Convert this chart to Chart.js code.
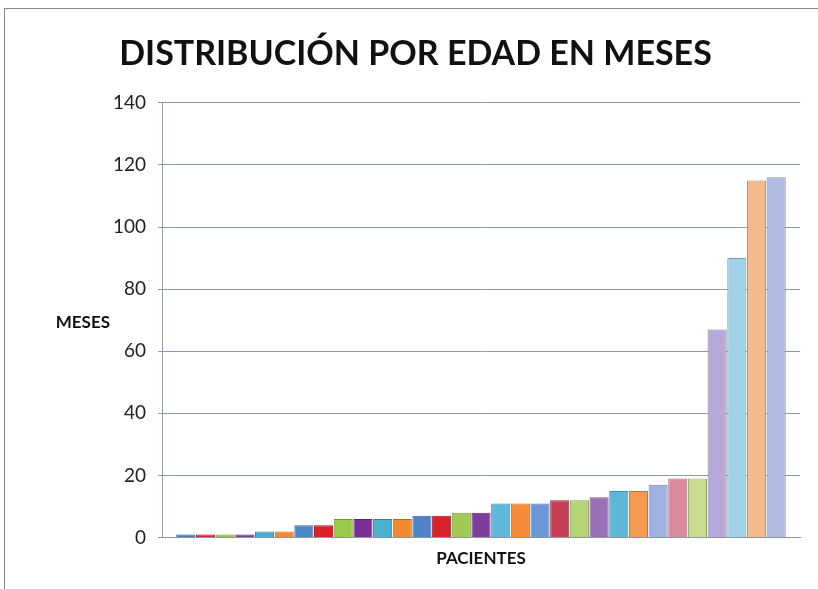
<!DOCTYPE html>
<html>
<head>
<meta charset="utf-8">
<script src="https://cdn.jsdelivr.net/npm/chart.js@4/dist/chart.umd.min.js"></script>
<style>
  html, body { margin: 0; padding: 0; background: #fff; }
  #wrap { position: relative; width: 818px; height: 589px; }
  #frame { position: absolute; left: 4px; top: 8px; right: 0; bottom: 0; border-top: 1px solid #8a8a8a; border-left: 1px solid #8a8a8a; pointer-events: none; }
  canvas { position: absolute; left: 0; top: 0; }
</style>
</head>
<body>
<div id="wrap">
  <canvas id="c" width="818" height="589"></canvas>
  <div id="frame"></div>
</div>
<script>
const TITLE = "DISTRIBUCIÓN POR EDAD EN MESES";
const Y_TITLE = "MESES";
const X_TITLE = "PACIENTES";
const patients = [1,2,3,4,5,6,7,8,9,10,11,12,13,14,15,16,17,18,19,20,21,22,23,24,25,26,27,28,29,30,31];
const ageMonths = [1,1,1,1,2,2,4,4,6,6,6,6,7,7,8,8,11,11,11,12,12,13,15,15,17,19,19,67,90,115,116];
const barColors = ["#4a7ebb","#d0282e","#9dc54f","#7b3b98","#45aed3","#f4882a",
                   "#4f86c8","#dd2027","#9dc948","#7a2f95","#4ab0d0","#f08a2c",
                   "#4d84c8","#d9232a","#a3c955","#7e3d9e","#5db8dc","#f58b35",
                   "#6a98d6","#c84058","#b5d475","#9b6fb5","#5cb7d9","#f59b4e",
                   "#9eb2e2","#d88a9e","#c8dc8e","#b6a8d8","#a2d2e6","#f4b98c","#b1bbe3"];
const yTicks = [0,20,40,60,80,100,120,140];

function shade(hex, f) {
  const n = parseInt(hex.slice(1), 16);
  let r = (n >> 16) & 255, g = (n >> 8) & 255, b = n & 255;
  r = Math.round(r * f); g = Math.round(g * f); b = Math.round(b * f);
  return `rgb(${Math.min(255,r)},${Math.min(255,g)},${Math.min(255,b)})`;
}

const yTitlePlugin = {
  id: 'yTitle',
  afterDraw(chart) {
    const { ctx, chartArea } = chart;
    ctx.save();
    ctx.font = "bold 17px Lato";
    ctx.fillStyle = "#111";
    ctx.textAlign = "right";
    ctx.textBaseline = "middle";
    ctx.fillText(Y_TITLE, 110, (chartArea.top + chartArea.bottom) / 2 + 2);
    ctx.restore();
  }
};

new Chart(document.getElementById('c'), {
  type: 'bar',
  data: {
    datasets: [{
      data: patients.map((p, i) => ({ x: i, y: ageMonths[i] })),
      backgroundColor: barColors,
      borderColor: barColors.map(c => shade(c, 0.75)),
      borderWidth: 1,
      barPercentage: 0.97,
      categoryPercentage: 1
    }]
  },
  options: {
    responsive: false,
    animation: false,
    layout: { padding: { left: 31, right: 18, top: 4, bottom: 20 } },
    plugins: {
      legend: { display: false },
      tooltip: { enabled: false },
      title: {
        display: true,
        text: TITLE,
        color: "#111",
        font: { family: "Lato", size: 34, weight: "bold" },
        padding: { top: 30, bottom: 28 }
      }
    },
    scales: {
      x: {
        type: 'linear',
        offset: false,
        min: -1.21,
        max: patients.length - 1 + 1.21,
        grid: { display: false, drawTicks: false },
        border: { display: true, color: "#8c97a6", width: 1 },
        ticks: { display: false },
        title: {
          display: true,
          text: X_TITLE,
          color: "#111",
          font: { family: "Lato", size: 17, weight: "bold" },
          padding: { top: 11, bottom: 0 }
        }
      },
      y: {
        min: 0,
        max: 140,
        afterFit(scale) { scale.width = 131; },
        afterBuildTicks(scale) { scale.ticks = yTicks.map(v => ({ value: v })); },
        grid: { color: "#8c9aab", lineWidth: 1, tickLength: 4 },
        border: { display: true, color: "#8c9aab", width: 1 },
        ticks: {
          color: "#222",
          font: { family: "Lato", size: 19 },
          padding: 12
        }
      }
    }
  },
  plugins: [yTitlePlugin]
});
</script>
</body>
</html>
